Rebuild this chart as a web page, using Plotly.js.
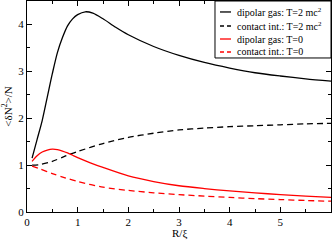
<!DOCTYPE html>
<html>
<head>
<meta charset="utf-8">
<script src="https://cdn.plot.ly/plotly-3.0.1.min.js"></script>
<style>html,body{margin:0;padding:0;background:#fff}#chart{width:332px;height:242px}</style>
</head>
<body>
<div id="chart"></div>
<script>
// R/xi values and <dN^2>/N for each series
const xDipT2 = [0.1,0.2,0.3,0.4,0.5,0.6,0.7,0.8,0.9,1.0,1.15,1.3,1.5,1.75,2.0,2.5,3.0,3.5,4.0,4.5,5.0,5.5,6.0];
const yDipT2 = [1.15,1.55,1.95,2.45,2.95,3.4,3.72,3.97,4.12,4.21,4.27,4.24,4.12,3.94,3.78,3.53,3.34,3.19,3.07,2.97,2.9,2.84,2.79];

const xConT2 = [0.1,0.25,0.5,0.75,1.0,1.5,2.0,2.5,3.0,3.5,4.0,4.5,5.0,5.5,6.0];
const yConT2 = [1.0,1.01,1.08,1.19,1.29,1.46,1.59,1.68,1.75,1.79,1.82,1.84,1.86,1.88,1.89];

const xDipT0 = [0.1,0.2,0.3,0.4,0.5,0.6,0.7,0.8,0.9,1.0,1.25,1.5,2.0,2.5,3.0,3.5,4.0,4.5,5.0,5.5,6.0];
const yDipT0 = [1.08,1.2,1.28,1.32,1.34,1.33,1.3,1.26,1.21,1.16,1.05,0.95,0.77,0.65,0.56,0.5,0.45,0.41,0.37,0.34,0.31];

const xConT0 = [0.1,0.25,0.5,0.75,1.0,1.5,2.0,2.5,3.0,3.5,4.0,4.5,5.0,5.5,6.0];
const yConT0 = [0.98,0.92,0.82,0.73,0.65,0.53,0.46,0.41,0.37,0.34,0.31,0.285,0.265,0.245,0.23];

const names = ['dipolar gas: T=2 mc<sup>2</sup>','contact int.: T=2 mc<sup>2</sup>','dipolar gas: T=0','contact int.: T=0'];
const colors = ['#000000','#000000','#ff0000','#ff0000'];
const dashes = ['solid','6px,4px','solid','6px,4px'];
const xTitle = 'R/ξ';
const yTitle = '&lt;δN<sup>2</sup>&gt;/N';

const FONT = '"Liberation Serif", "Times New Roman", serif';
function tr(x, y, i) {
  return {x: x, y: y, name: names[i], type: 'scatter', mode: 'lines', showlegend: false,
    line: {color: colors[i], width: 1.3, dash: dashes[i], shape: 'spline', smoothing: 0.8}};
}
const data = [tr(xDipT2, yDipT2, 0), tr(xConT2, yConT2, 1), tr(xDipT0, yDipT0, 2), tr(xConT0, yConT0, 3)];

// hand-drawn legend box (paper coordinates of the plot area)
const shapes = [{type: 'rect', xref: 'paper', yref: 'paper', x0: 0.6184, x1: 1.0, y0: 0.73, y1: 1.0,
  line: {color: '#000', width: 1}, fillcolor: '#fff', layer: 'above'}];
const annotations = [];
const rowY = [0.948, 0.8815, 0.8199, 0.7583];
for (let i = 0; i < 4; i++) {
  shapes.push({type: 'line', xref: 'paper', yref: 'paper', x0: 0.6349, x1: 0.671, y0: rowY[i], y1: rowY[i],
    line: {color: colors[i], width: 1.3, dash: i % 2 ? '4px,3px' : 'solid'}, layer: 'above'});
  annotations.push({xref: 'paper', yref: 'paper', x: 0.6875, y: rowY[i], xanchor: 'left', yanchor: 'middle',
    text: names[i], showarrow: false, font: {family: FONT, size: 10, color: '#000'}, borderpad: 0});
}
annotations.push({xref: 'paper', yref: 'paper', x: 0.5, y: -0.1, xanchor: 'center', yanchor: 'middle',
  text: xTitle, showarrow: false, font: {family: FONT, size: 11, color: '#000'}, borderpad: 0});

const axisCommon = {
  showgrid: false, zeroline: false, showline: true, linecolor: '#000', linewidth: 1,
  mirror: 'ticks', ticks: 'inside', ticklen: 5, tickcolor: '#000', tickwidth: 1,
  tickfont: {family: FONT, size: 11, color: '#000'}
};
const layout = {
  width: 332, height: 242,
  margin: {l: 27, r: 1, t: 1, b: 30, pad: 0},
  paper_bgcolor: '#fff', plot_bgcolor: '#fff',
  font: {family: FONT, color: '#000'},
  xaxis: Object.assign({}, axisCommon, {
    range: [0, 6], dtick: 1, tick0: 0,
    minor: {dtick: 0.5, ticks: 'inside', ticklen: 3, tickcolor: '#000'}
  }),
  yaxis: Object.assign({}, axisCommon, {
    range: [0, 4.5], dtick: 1, tick0: 0,
    minor: {dtick: 0.5, ticks: 'inside', ticklen: 3, tickcolor: '#000'},
    title: {text: yTitle, font: {family: FONT, size: 11}, standoff: 5}
  }),
  showlegend: false,
  shapes: shapes,
  annotations: annotations
};
Plotly.newPlot('chart', data, layout, {staticPlot: true, displayModeBar: false});
</script>
</body>
</html>
